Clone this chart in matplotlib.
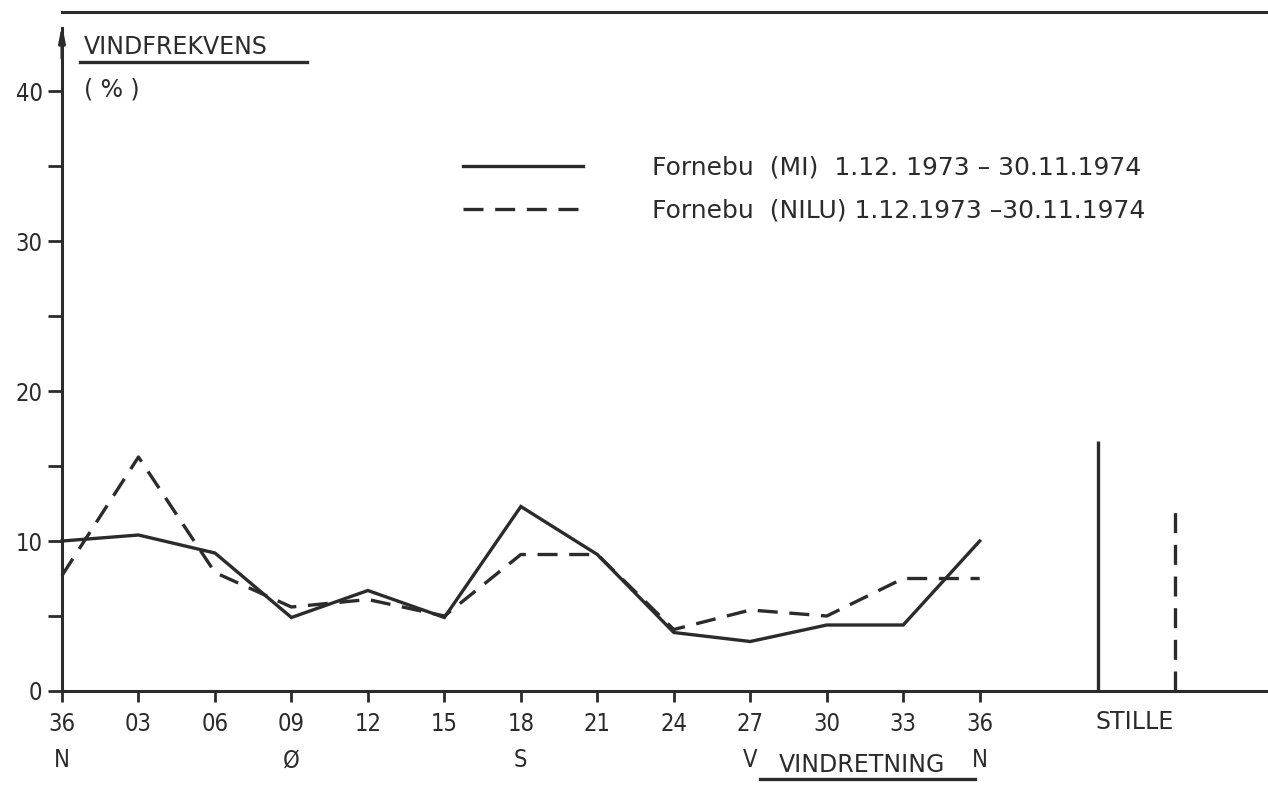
import matplotlib
matplotlib.use("Agg")
import matplotlib.pyplot as plt
from matplotlib.lines import Line2D

# wind directions (tens of degrees) and compass letters
directions = ["36", "03", "06", "09", "12", "15", "18", "21", "24", "27", "30", "33", "36"]
compass = {0: "N", 3: "Ø", 6: "S", 9: "V", 12: "N"}

# wind frequency per direction (%)
freq_mi = [10.0, 10.4, 9.2, 4.9, 6.7, 4.9, 12.3, 9.1, 3.9, 3.3, 4.4, 4.4, 10.0]
freq_nilu = [7.7, 15.6, 7.9, 5.6, 6.1, 5.0, 9.1, 9.1, 4.1, 5.4, 5.0, 7.5, 7.5]

# calm (stille) frequency (%)
calm_mi = 16.7
calm_nilu = 12.3

label_mi = "Fornebu  (MI)  1.12. 1973 \u2013 30.11.1974"
label_nilu = "Fornebu  (NILU) 1.12.1973 \u201330.11.1974"

ink = "#2b2b2b"
narrow = dict(family="DejaVu Sans", stretch="condensed", color=ink)
wide = dict(family="DejaVu Sans", color=ink)
plt.rcParams["font.family"] = ["DejaVu Sans"]

fig = plt.figure(figsize=(12.68, 8.09), dpi=100)
W, H = 1268, 809
ax = fig.add_axes([62 / W, 1 - 691 / H, 1 - 62 / W, (691 - 12) / H])

x = list(range(len(directions)))
lw = 2.4
dash = (0, (6, 3.5))

ax.plot(x, freq_mi, color=ink, lw=lw, solid_joinstyle="miter", label=label_mi, clip_on=False)
ax.plot(x, freq_nilu, color=ink, lw=lw, linestyle=dash, label=label_nilu, clip_on=False)

ax.vlines(13.55, 0, calm_mi, color=ink, lw=lw)
ax.vlines(14.55, 0, calm_nilu, color=ink, lw=lw, linestyles=[dash])

ax.set_xlim(0, 15.77)
ax.set_ylim(0, 45.27)

ax.spines["right"].set_visible(False)
for side in ["left", "bottom", "top"]:
    ax.spines[side].set_linewidth(2.2)
    ax.spines[side].set_color(ink)
ax.spines["left"].set_bounds(0, 44.2)
ax.annotate("", xy=(0, 44.6), xytext=(0, 42.0),
            arrowprops=dict(arrowstyle="-|>,head_length=0.9,head_width=0.18", color=ink, lw=2.2),
            annotation_clip=False)

ax.set_yticks([0, 10, 20, 30, 40])
ax.set_yticks([5, 15, 25, 35], minor=True)
ax.set_yticklabels(["0", "10", "20", "30", "40"], fontsize=17, **narrow)
ax.tick_params(axis="y", which="both", direction="out", length=10, width=2, color=ink, pad=4)

ax.set_xticks(x)
ax.set_xticklabels(directions, fontsize=17, **narrow)
ax.tick_params(axis="x", direction="out", length=8, width=2, color=ink, pad=7)

for i, letter in compass.items():
    ax.annotate(letter, xy=(i, 0), xycoords=("data", "axes fraction"),
                xytext=(0, -50), textcoords="offset points",
                ha="center", va="center", fontsize=17, **narrow)
ax.annotate("STILLE", xy=(14.03, 0), xycoords=("data", "axes fraction"),
            xytext=(0, -22), textcoords="offset points",
            ha="center", va="center", fontsize=17, **wide)

# axis titles with underline
fig.text(84 / W, 1 - 47 / H, "VINDFREKVENS", fontsize=17, va="center", ha="left", **wide)
fig.add_artist(Line2D([80 / W, 307 / W], [1 - 62 / H, 1 - 62 / H], color=ink, lw=2.4))
fig.text(84 / W, 1 - 90 / H, "( % )", fontsize=17, va="center", ha="left", **wide)

fig.text(862 / W, 1 - 765 / H, "VINDRETNING", fontsize=17, va="center", ha="center", **wide)
fig.add_artist(Line2D([760 / W, 975 / W], [1 - 779 / H, 1 - 779 / H], color=ink, lw=2.4))

leg = ax.legend(loc="upper left", frameon=False,
                handlelength=4.8, handletextpad=2.8, labelspacing=0.75,
                prop=dict(family="DejaVu Sans", size=18))
leg.set_bbox_to_anchor((440 / W, 1 - 133 / H), transform=fig.transFigure)
for t in leg.get_texts():
    t.set_color(ink)

fig.savefig("out.png", dpi=100)
